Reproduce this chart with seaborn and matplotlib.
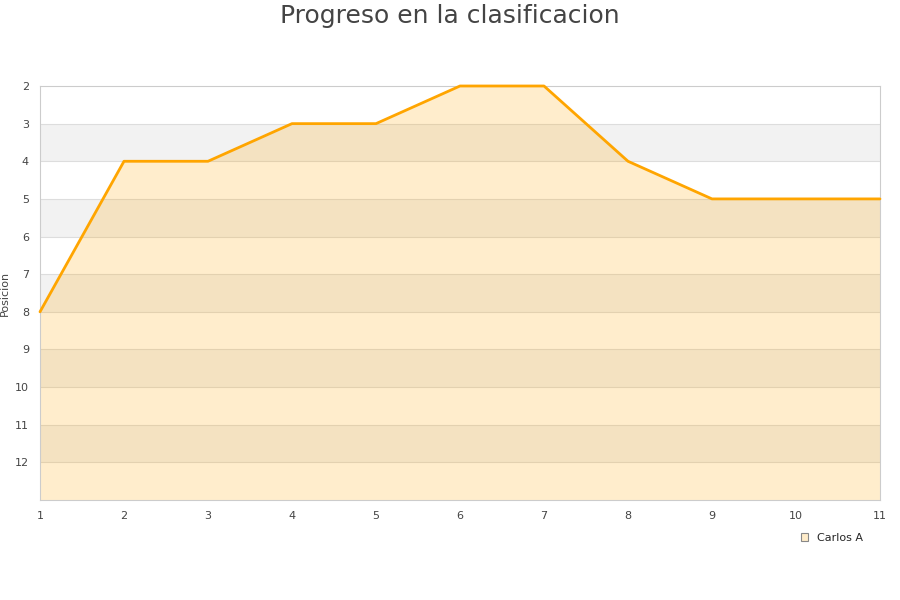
import numpy as np
import pandas as pd
import seaborn as sns
from matplotlib import pyplot as plt
from matplotlib.patches import Rectangle

jornadas = [1, 2, 3, 4, 5, 6, 7, 8, 9, 10, 11]
posiciones = [8, 4, 4, 3, 3, 2, 2, 4, 5, 5, 5]
jugador = 'Carlos A'

df = pd.DataFrame({'jornada': jornadas, 'posicion': posiciones})

sns.set_style('white')
plt.rcParams['font.family'] = ['DejaVu Sans']

fig = plt.figure(figsize=(9, 6), dpi=100)
ax = fig.add_axes([40 / 900, 100 / 600, 840 / 900, 414 / 600])

# bandas alternas de fondo
for y0 in range(3, 13, 2):
    ax.axhspan(y0, y0 + 1, color='#f2f2f2', zorder=0, lw=0)
for y0 in range(3, 13):
    ax.axhline(y0, color='#dddddd', lw=0.8, zorder=0.5)

ax.fill_between(df['jornada'], df['posicion'], 13, color='#ffa500', alpha=0.2,
                lw=0, zorder=1)
sns.lineplot(data=df, x='jornada', y='posicion', ax=ax, color='#ffa500', lw=2,
             zorder=3, clip_on=False)

ax.set_xlim(1, 11)
ax.set_ylim(13, 2)
ax.set_xticks(jornadas)
ax.set_yticks(range(2, 13))
ax.tick_params(axis='both', labelsize=8, colors='#444444', length=0, pad=8)
ax.set_xlabel('')
ax.set_ylabel('Posicion', fontsize=8, color='#444444')
ax.yaxis.set_label_coords(-0.036, 0.5)
for s in ax.spines.values():
    s.set_color('#cccccc')
    s.set_linewidth(0.8)

fig.suptitle('Progreso en la clasificacion', fontsize=18, color='#444444', y=0.993)

handle = Rectangle((0, 0), 1, 1, facecolor='#ffecc9', edgecolor='#888888', lw=0.8)
ax.legend([handle], [jugador], loc='upper right', bbox_to_anchor=(0.992, -0.055),
          frameon=False, fontsize=8, handlelength=0.7, handleheight=0.7)

plt.savefig('out.png', dpi=100)
